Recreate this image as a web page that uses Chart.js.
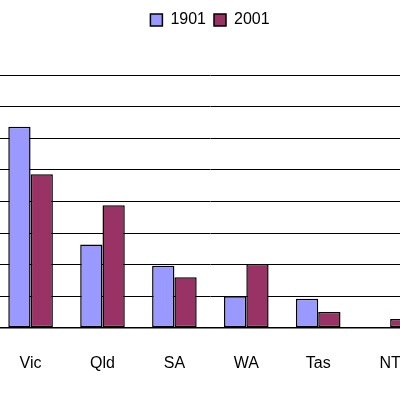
<!DOCTYPE html>
<html><head><meta charset="utf-8">
<script src="https://cdn.jsdelivr.net/npm/chart.js@4"></script>
<style>html,body{margin:0;padding:0;overflow:hidden;background:#fff;width:400px;height:400px}
#w{position:absolute;left:-78px;top:0;width:576px;height:400px}</style>
</head><body><div id="w"><canvas id="c"></canvas></div>
<script>
const categories=["NSW","Vic","Qld","SA","WA","Tas","NT","ACT"];
const s1901=[36.0,31.8,13.2,9.8,5.0,4.6,0.1,0.0];
const s2001=[34.0,24.3,19.4,8.0,10.1,2.5,1.4,1.6];
const yTicks=[0,5,10,15,20,25,30,35,40];
new Chart(document.getElementById('c'),{type:'bar',
data:{labels:categories,datasets:[
{label:'1901',data:s1901,backgroundColor:'#9999FF',borderColor:'#000',borderWidth:1.5,borderSkipped:false,categoryPercentage:0.62,barPercentage:1},
{label:'2001',data:s2001,backgroundColor:'#993366',borderColor:'#000',borderWidth:1.5,borderSkipped:false,categoryPercentage:0.62,barPercentage:1}]},
options:{animation:false,responsive:true,maintainAspectRatio:false,
layout:{padding:{top:4,bottom:9,left:0,right:0}},
plugins:{tooltip:{enabled:false},legend:{position:'top',labels:{color:'#000',font:{family:'Arial, Liberation Sans',size:16},boxWidth:12,boxHeight:12,padding:8}}},
scales:{x:{grid:{display:false},border:{color:'#000',width:1.5},ticks:{color:'#000',font:{family:'Arial, Liberation Sans',size:16},padding:18}},
y:{min:0,max:40,afterBuildTicks:a=>{a.ticks=yTicks.map(v=>({value:v}));},ticks:{display:false},grid:{color:'#000',lineWidth:1,drawTicks:false},border:{display:false}}}},
plugins:[{id:'legendGap',beforeInit(ch){const f=ch.legend.fit;ch.legend.fit=function(){f.bind(this)();this.height+=37;};}}]
});
</script></body></html>
